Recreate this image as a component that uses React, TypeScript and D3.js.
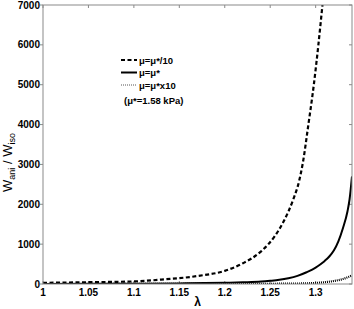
import React from "react";
import * as d3 from "d3";

const lambdaDashed = [1.0, 1.05, 1.1, 1.13, 1.17, 1.2, 1.22, 1.24, 1.255, 1.265, 1.275, 1.282, 1.286, 1.292, 1.298, 1.303, 1.3075, 1.312];
const valuesDashed = [30, 45, 65, 110, 200, 330, 520, 820, 1200, 1580, 2100, 2600, 3050, 4000, 5000, 6000, 7000, 8000];

const lambdaSolid = [1.0, 1.05, 1.1, 1.15, 1.2, 1.22, 1.24, 1.25, 1.26, 1.27, 1.28, 1.29, 1.3, 1.305, 1.31, 1.315, 1.32, 1.325, 1.33, 1.335, 1.3373, 1.34];
const valuesSolid = [2, 4, 8, 15, 30, 42, 60, 80, 105, 145, 205, 295, 410, 490, 580, 690, 840, 1070, 1400, 1820, 2120, 2700];

const lambdaDotted = [1.0, 1.1, 1.2, 1.25, 1.28, 1.3, 1.31, 1.32, 1.33, 1.34];
const valuesDotted = [0, 1, 3, 6, 12, 27, 45, 75, 125, 215];

const xTicks = [1, 1.05, 1.1, 1.15, 1.2, 1.25, 1.3];
const yTicks = [0, 1000, 2000, 3000, 4000, 5000, 6000, 7000];

const legendLabels = ["μ=μ*/10", "μ=μ*", "μ=μ*x10"];
const noteLabel = "(μ*=1.58 kPa)";

const W = 354, H = 309;
const L = 43, R = 352, T = 5, B = 284;

export default function App() {
  const x = d3.scaleLinear().domain([1, 1.34]).range([L, R]);
  const y = d3.scaleLinear().domain([0, 7000]).range([B, T]);
  const line = d3.line<[number, number]>().x(d => x(d[0])).y(d => y(d[1])).curve(d3.curveMonotoneX);
  const mk = (ls: number[], vs: number[]) => line(ls.map((l, i) => [l, vs[i]] as [number, number])) || "";
  const font = "'Liberation Sans', Arial, sans-serif";
  const axisColor = "#8a8a8a";
  const series = [
    { d: mk(lambdaDashed, valuesDashed), dash: "4,2.5", w: 2.2 },
    { d: mk(lambdaSolid, valuesSolid), dash: "none", w: 2 },
    { d: mk(lambdaDotted, valuesDotted), dash: "1,1", w: 2.2 },
  ];
  const legendY = [60, 72.5, 85];
  return (
    <svg width={W} height={H} style={{ position: "absolute", left: 0, top: 0, background: "#fff" }} fontFamily={font}>
      <defs>
        <clipPath id="plot">
          <rect x={L} y={T} width={R - L} height={B - T} />
        </clipPath>
      </defs>
      <rect x={0} y={0} width={W} height={H} fill="#fff" />
      {xTicks.map(t => (
        <g key={"x" + t}>
          <line x1={x(t)} x2={x(t)} y1={B} y2={B - 3} stroke={axisColor} />
          <line x1={x(t)} x2={x(t)} y1={T} y2={T + 3} stroke={axisColor} />
          <text x={x(t)} y={B + 12} textAnchor="middle" fontSize={10} fontWeight="bold" fill="#000">{t}</text>
        </g>
      ))}
      {yTicks.map(t => (
        <g key={"y" + t}>
          <line x1={L - 3} x2={L} y1={y(t)} y2={y(t)} stroke={axisColor} />
          <line x1={R} x2={R - 3} y1={y(t)} y2={y(t)} stroke={axisColor} />
          <text x={L - 3} y={y(t) + 3.5} textAnchor="end" fontSize={10} fontWeight="bold" fill="#000">{t}</text>
        </g>
      ))}
      <g clipPath="url(#plot)">
        {series.map((s, i) => (
          <path key={i} d={s.d} fill="none" stroke="#000" strokeWidth={s.w} strokeDasharray={s.dash} />
        ))}
      </g>
      <rect x={L} y={T} width={R - L} height={B - T} fill="none" stroke={axisColor} strokeWidth={1} />
      {series.map((s, i) => (
        <g key={"lg" + i}>
          <line x1={121} x2={137} y1={legendY[i]} y2={legendY[i]} stroke={i === 2 ? "#555" : "#000"} strokeWidth={i === 2 ? 1 : 2} strokeDasharray={s.dash} />
          <text x={139} y={legendY[i] + 3.5} fontSize={9.5} fontWeight="bold" fill="#000">{legendLabels[i]}</text>
        </g>
      ))}
      <text x={124} y={104} fontSize={9.5} fontWeight="bold" fill="#000">{noteLabel}</text>
      <text x={x(1.17)} y={306} textAnchor="middle" fontSize={12} fontWeight="bold" fill="#000">λ</text>
      <text transform={`translate(12,${(T + B) / 2 + 18}) rotate(-90)`} textAnchor="middle" fontSize={13} fill="#000">
        W<tspan fontSize={9} dy={3}>ani</tspan><tspan dy={-3}> / W</tspan><tspan fontSize={9} dy={3}>iso</tspan>
      </text>
    </svg>
  );
}
